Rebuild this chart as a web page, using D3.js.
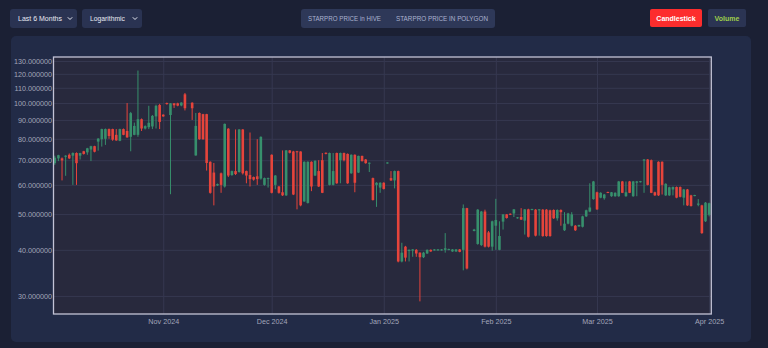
<!DOCTYPE html>
<html>
<head>
<meta charset="utf-8">
<script src="https://cdn.jsdelivr.net/npm/d3@7"></script>
<style>
  html, body { margin: 0; padding: 0; background: #1b2034; }
  svg { display: block; }
</style>
</head>
<body>
<svg id="chart" width="768" height="348"></svg>
<script>
// Daily STARPRO candles, one entry per day starting at firstDay (null = no trading that day)
const firstDay = "2024-10-02";
const open = [68.7,70.8,70.8,71.5,72.4,72,73.2,72,74,73.5,74.8,76.4,78.6,79.8,80,85,85,82,79,85,
  84,81,82,82,90.4,85.3,86,86.4,92,98.8,93,100,92.8,99.8,99.8,98.5,105.6,null,100.2,72.1,
  94,93.3,93.3,69.3,64.8,59.8,64.5,59.4,85.2,63.8,65.4,65,84.8,65.4,63.8,63,63.3,62.4,60,62.3,
  72.4,60,59.4,57.3,56.2,74.4,73.9,74,73.9,54.1,53.6,69.3,63.6,65.4,70,73.3,60,60,73.2,70,
  73.2,72.8,64.5,72.4,64.8,71.9,70.3,68.6,62.6,60,59,60.8,68.6,62.6,61.7,65.4,37.2,40.8,39.7,39.8,
  40,39.3,38.2,39.1,40,39.9,39.9,39.9,40,40,39.6,39.6,40.1,40,51.9,null,45,41.5,41.2,50.8,
  44.6,40.8,46.5,40,47.7,49.9,50.1,50.2,48.7,49.1,48,51.5,51.3,51.4,51.2,51.4,51.4,51.2,51.3,48.7,
  51.3,45.2,47.1,46.5,46.5,46.3,46.2,49.3,50.8,54.9,57.3,55.4,55.2,57.4,55.9,55.9,55.9,61.3,55.9,61.3,
  55.9,60.8,61,69.8,70.3,70,57.3,69.3,69.3,56.2,56.2,58.3,59.2,59.2,55.4,58.3,56.2,56,53,52.8,
  47.8,49.8];
const high = [72,72.4,71.2,72.2,73,73.5,73.5,73.3,74.2,75.6,76.6,76.6,80.3,85.2,85.3,85.3,85.2,85,85.2,85.3,
  100,94.6,88.5,122.5,90.8,87,98.3,92.8,99,99.5,93.2,100.3,100,100,100.2,100.5,106.5,null,100.5,94,
  94.3,93.5,93.5,69.5,68.8,60.5,64.8,88,85.5,65.6,84.8,85,85,65.6,83.2,63.2,79.8,81.2,62.8,62.8,
  72.6,63.8,59.6,74.4,74.6,74.6,74.2,74.2,74,69.5,69.5,69.5,70,70,73.2,73.5,73.4,73.2,73.4,73.4,
  73.4,73,72.6,72.6,72,72,70.5,69,62.8,61,61,61,69.1,65.4,65.6,65.6,41.8,41,40.1,40.2,
  40.2,39.4,39.5,40.1,40.1,40.2,40.2,40.2,44.4,40.3,40.2,40.2,40.2,53.1,52,null,45.6,51.6,51,51.4,
  45,48,55,47.8,50,50,50.2,51.6,49.1,51.9,51.6,51.7,51.7,51.6,51.6,51.6,51.6,51.4,51.5,51.5,
  51.5,50.6,50.4,50.6,46.7,46.8,49.5,51.4,60.6,61.5,57.5,57.3,56.7,57.5,57.4,57.3,61.5,61.5,61.3,61.5,
  61.5,61.5,61.5,70.5,70.5,70.3,57.5,69.5,69.5,60.6,59.3,59.4,59.4,59.4,58.5,58.5,56.4,56.4,54.9,53,
  53.9,53.7];
const low = [68,69.6,61.7,63.5,70.5,60,60,70.3,72.5,72.4,69.6,73.5,74.3,76.2,77,80,79,79,78.8,81.8,
  80.5,74,81.8,81,84,84.8,85,85,85.3,85,91.8,99,56.6,97,98,98,95.5,null,90,72,
  79.5,79.5,65.6,56.8,52.8,59.6,57.1,59,63,63.5,63.8,64.8,64,60.6,59.4,61.6,60,62,59.7,59,
  56.9,58.4,56.8,56,56,73,56.3,51.5,52.5,54,53.4,57.7,63.4,59.2,57,72.6,59.8,59.8,60.4,60.6,
  69.5,60.4,64.3,57.3,64.6,69.4,68.5,65,54.4,52.3,57.1,58.3,68.5,61.5,58.7,37,37,37.2,37.2,38.3,
  38.3,29,38,39,39.5,39.8,39.8,39.8,39.3,39.9,39.5,39.5,39.4,35.2,35.4,null,44.9,41.3,41,40.6,
  40.6,39.8,40,39.9,45.4,48.6,49.7,49.1,48.6,48.2,44,43.2,51.2,43.5,43.7,43.4,43.4,43.4,48.5,48,
  46.5,45,46.9,46.3,45,46.2,46,49.1,50.6,54.7,51.3,55.2,54.7,57,55.7,55.7,55.7,57,55.7,57,
  55.7,55.9,60.9,57.1,59.8,57,56,56,56.5,56,56,56.2,55.2,55.5,52.8,52.6,52.4,55.9,52.5,44.2,
  47.6,49.3];
const close = [71.1,72.2,69.9,72,70.8,73.2,68.7,73.2,72.8,75.4,76.4,73.8,80.1,85,85,81.4,79.6,79.2,85,82,
  80.7,93.9,86.7,90.4,85.3,86.6,88.4,92.3,98.3,88.9,92,99.5,99.8,98.6,98.4,100.3,96.8,null,96.8,86.7,
  79.8,79.8,68.8,57.1,59.4,60.3,60,87.8,63.6,65.4,64.2,84.8,64.5,63.6,62.2,62,62.2,81,62.6,62.6,
  57.1,63.6,57.1,56.2,74.4,73.3,56.5,73.6,52.8,69.3,69.3,59.4,69.7,59.4,57.1,72.8,73.2,65.4,60.6,73.2,
  70,60.6,72.4,60.8,71.9,69.6,68.7,68.9,54.6,60.8,60.8,58.5,69,61.7,65.4,37.2,39.3,38.1,40,40.1,
  39.1,38.2,39.3,40,39.6,40.1,40.1,40.1,40.4,40.2,40.1,40.1,39.5,51.9,35.6,null,45.4,51.4,50.8,40.8,
  40.8,47.8,48.2,43.6,49.9,48.8,49.8,51.5,49,48.3,51.5,43.4,51.6,43.7,51.5,43.6,43.6,43.6,48.7,51.3,
  50.6,47.1,50.2,49.9,45.2,46.7,49.3,51.2,52.1,61.3,51.5,57.1,56.5,57.1,57.3,57.1,61.3,57.1,57.3,57.1,
  61.3,61.3,61.4,70.3,60,57.1,56.2,56.2,60,60.4,59.1,59.2,55.4,55.7,58.3,52.8,52.6,56.3,53.4,44.4,
  53.7,53.5];

const priceTicks = [30, 40, 50, 60, 70, 80, 90, 100, 110, 120, 130];
const rangeLabel = "Last 6 Months";
const scaleLabel = "Logarithmic";
const sourceTabs = ["STARPRO PRICE in HIVE", "STARPRO PRICE IN POLYGON"];
const chartButtons = ["Candlestick", "Volume"];

const UP = "#378f6c", DOWN = "#e6443b";
const svg = d3.select("#chart");
const FONT = "'Liberation Sans', Arial, sans-serif";

// page panel
svg.append("rect").attr("width", 768).attr("height", 348).attr("fill", "#1b2034");
svg.append("rect").attr("x", 11).attr("y", 36).attr("width", 740).attr("height", 306)
  .attr("rx", 5).attr("fill", "#222b47");

// ---- top controls ----
function selectBox(x, w, label, textW) {
  const g = svg.append("g");
  g.append("rect").attr("x", x).attr("y", 9).attr("width", w).attr("height", 19)
    .attr("rx", 3).attr("fill", "#2a3352");
  g.append("text").attr("x", x + 8).attr("y", 21).attr("fill", "#e8eaf2")
    .attr("font-family", FONT).attr("font-size", 7.2)
    .attr("textLength", textW).attr("lengthAdjust", "spacingAndGlyphs").text(label);
  const cx = x + w - 7;
  g.append("path").attr("d", `M${cx - 2.2},${17.3} L${cx},${19.5} L${cx + 2.2},${17.3}`)
    .attr("fill", "none").attr("stroke", "#e8eaf2").attr("stroke-width", 1);
}
selectBox(10, 67, rangeLabel, 44);
selectBox(82, 60, scaleLabel, 35);

svg.append("rect").attr("x", 301).attr("y", 9).attr("width", 194).attr("height", 19)
  .attr("rx", 3).attr("fill", "#2e3858");
const tabX = [308, 396], tabW = [73, 92];
svg.selectAll("text.tab").data(sourceTabs).join("text").attr("class", "tab")
  .attr("x", (d, i) => tabX[i]).attr("y", 21)
  .attr("textLength", (d, i) => tabW[i]).attr("lengthAdjust", "spacingAndGlyphs")
  .attr("fill", "#aab2cf").attr("font-family", FONT).attr("font-size", 7.2).text(d => d);

svg.append("rect").attr("x", 650).attr("y", 9).attr("width", 52).attr("height", 18)
  .attr("rx", 2).attr("fill", "#fd2d2d");
svg.append("text").attr("x", 676).attr("y", 20.5).attr("text-anchor", "middle")
  .attr("fill", "#ffffff").attr("font-weight", "bold").attr("font-family", FONT)
  .attr("font-size", 7).text(chartButtons[0]);
svg.append("rect").attr("x", 708).attr("y", 9).attr("width", 38).attr("height", 18)
  .attr("rx", 2).attr("fill", "#2b3453");
svg.append("text").attr("x", 727).attr("y", 20.5).attr("text-anchor", "middle")
  .attr("fill", "#9fcf4c").attr("font-weight", "bold").attr("font-family", FONT)
  .attr("font-size", 7).text(chartButtons[1]);

// ---- plot ----
const plot = { left: 53.5, right: 711.3, top: 57, bottom: 314 };
const x = d3.scaleUtc()
  .domain([Date.UTC(2024, 9, 1, 15, 22), Date.UTC(2025, 3, 1, 14, 36)])
  .range([plot.left, plot.right]);
const y = d3.scaleLog().domain([26.8, 133.3]).range([plot.bottom, plot.top]);

const t0 = new Date(firstDay + "T00:00:00Z");
const candles = open.map((o, i) => o == null ? null : ({
  date: d3.utcDay.offset(t0, i), o, h: high[i], l: low[i], c: close[i]
})).filter(Boolean);

svg.append("rect").attr("x", plot.left).attr("y", plot.top)
  .attr("width", plot.right - plot.left).attr("height", plot.bottom - plot.top)
  .attr("fill", "#28293d");

// grid lines
const gridY = svg.append("g").attr("transform", `translate(${plot.left},0)`)
  .call(d3.axisLeft(y).tickValues(priceTicks).tickSize(-(plot.right - plot.left)).tickFormat(""));
const gridX = svg.append("g").attr("transform", `translate(0,${plot.bottom})`)
  .call(d3.axisBottom(x).ticks(d3.utcMonth.every(1)).tickSize(-(plot.bottom - plot.top)).tickFormat(""));
[gridY, gridX].forEach(g => {
  g.select(".domain").remove();
  g.selectAll("line").attr("stroke", "#363850").attr("stroke-width", 1);
});

// candles
svg.append("clipPath").attr("id", "plotClip").append("rect")
  .attr("x", plot.left).attr("y", plot.top)
  .attr("width", plot.right - plot.left).attr("height", plot.bottom - plot.top);
const cg = svg.append("g").attr("clip-path", "url(#plotClip)");
const bodyW = 2.6;
const color = d => d.c >= d.o ? UP : DOWN;
cg.selectAll("line.wick").data(candles).join("line").attr("class", "wick")
  .attr("x1", d => x(d.date)).attr("x2", d => x(d.date))
  .attr("y1", d => y(d.h)).attr("y2", d => y(d.l))
  .attr("stroke", color).attr("stroke-width", 1);
cg.selectAll("rect.body").data(candles).join("rect").attr("class", "body")
  .attr("x", d => x(d.date) - bodyW / 2).attr("width", bodyW)
  .attr("y", d => y(Math.max(d.o, d.c)))
  .attr("height", d => Math.max(1, Math.abs(y(d.o) - y(d.c))))
  .attr("fill", color);

// frame
svg.append("rect").attr("x", plot.left).attr("y", plot.top)
  .attr("width", plot.right - plot.left).attr("height", plot.bottom - plot.top)
  .attr("fill", "none").attr("stroke", "#c3c3d6").attr("stroke-width", 1.3);

// axis labels
const yAxis = svg.append("g").attr("transform", `translate(${plot.left - 0.5},0)`)
  .call(d3.axisLeft(y).tickValues(priceTicks).tickSize(0).tickPadding(1).tickFormat(d3.format(".6f")));
const xAxis = svg.append("g").attr("transform", `translate(0,${plot.bottom})`)
  .call(d3.axisBottom(x).ticks(d3.utcMonth.every(1)).tickSize(0).tickPadding(5)
    .tickFormat(d3.utcFormat("%b %Y")));
[yAxis, xAxis].forEach(g => {
  g.select(".domain").remove();
  g.selectAll("text").attr("fill", "#a2a6ba").attr("font-family", FONT).attr("font-size", 7.2);
});
</script>
</body>
</html>
